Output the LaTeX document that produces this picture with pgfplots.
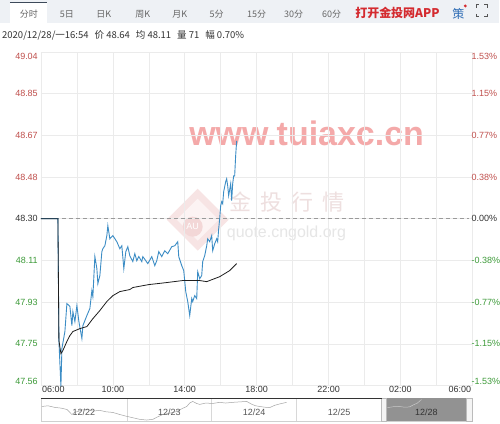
\documentclass[border=0pt]{standalone}
\usepackage{pgfplots}
\pgfplotsset{compat=1.18}
\usepackage{fontspec}
\setmainfont{Liberation Sans}
\newfontfamily\cjk{Noto Sans CJK SC}
\definecolor{pricecol}{HTML}{3C8DC5}
\definecolor{avgcol}{HTML}{1E1E1E}
\definecolor{upred}{HTML}{C0504D}
\definecolor{dngreen}{HTML}{3E9B3A}
\definecolor{neutral}{HTML}{333333}
\definecolor{gridc}{HTML}{EBEBEB}
\definecolor{dashc}{HTML}{9A9A9A}
\definecolor{barbg}{HTML}{EEF1F5}
\definecolor{tabtop}{HTML}{3D4A5A}
\definecolor{tabtxt}{HTML}{666666}
\definecolor{appred}{HTML}{D42A2F}
\definecolor{ceblue}{HTML}{2F6DB5}
\definecolor{iconc}{HTML}{555555}
\definecolor{wmpink}{HTML}{F4A9A9}
\definecolor{wmgray}{HTML}{EEDFDF}
\definecolor{wmlight}{HTML}{E6E6E6}
\definecolor{wmdia}{HTML}{F7E4E4}
\definecolor{wmdiain}{HTML}{FCF3F3}
\definecolor{wmcirc}{HTML}{F3D7D7}
\definecolor{navborder}{HTML}{D0D0D0}
\definecolor{navdiv}{HTML}{D8D8D8}
\definecolor{navsel}{HTML}{929292}
\definecolor{handlef}{HTML}{F4F4F4}
\definecolor{handled}{HTML}{BBBBBB}
\definecolor{navline}{HTML}{A5A5A5}
\definecolor{navlinesel}{HTML}{C8C8C8}
\newcommand{\tk}{\fontsize{9}{10}\selectfont}

\begin{document}
\begin{tikzpicture}
\begin{scope}[x=1pt,y=-1pt]
\useasboundingbox (0,0) rectangle (500,424);
\fill[white] (0,0) rectangle (500,424);
% tab bar
\fill[barbg] (0,0) rectangle (500,23);
\fill[white] (10,2) rectangle (47,23);
\draw[tabtop, line width=1.5pt] (10,2.5) -- (47,2.5);
\foreach \x/\t in {29/分时,67/5日,104/日K,143/周K,180/月K,217/5分,257/15分,294/30分,332/60分}
  \node[font=\cjk\tk, text=tabtxt] at (\x,14) {\t};
\node[font=\cjk\bfseries\fontsize{12}{13}\selectfont, text=appred] at (398,13) {打开金投网APP};
\node[font=\cjk\fontsize{12}{13}\selectfont, text=ceblue] at (459,14) {策};
\fill[appred] (466,6) circle (1.6);
\begin{scope}[draw=iconc, line width=1pt]
\draw (477,8) -- (477,5) -- (480,5);
\draw (485,5) -- (488,5) -- (488,8);
\draw (477,14) -- (477,17) -- (480,17);
\draw (485,17) -- (488,17) -- (488,14);
\end{scope}
% status line
\node[anchor=west, font=\cjk\fontsize{9.5}{11}\selectfont, text=neutral, inner sep=0pt] at (2,35)
  {2020/12/28/一16:54\hspace{6pt}价 48.64\hspace{6pt}均 48.11\hspace{6pt}量 71\hspace{6pt}幅 0.70\%};
% watermarks
\fill[wmdia] (198,189) -- (229,220) -- (198,251) -- (167,220) -- cycle;
\fill[wmdiain] (198,199) -- (219,220) -- (198,241) -- (177,220) -- cycle;
\fill[wmcirc] (193,227) circle (10);
\node[text=white, font=\fontsize{9}{10}\selectfont] at (193,227) {AU};
\node[text=wmgray, font=\cjk\fontsize{22}{24}\selectfont, anchor=west, inner sep=0pt] at (230,202)
  {金\hspace{9pt}投\hspace{9pt}行\hspace{9pt}情};
\node[text=wmlight, font=\fontsize{16}{18}\selectfont, anchor=west, inner sep=0pt] at (227,234) {quote.cngold.org};
\node[text=wmpink, font=\bfseries\fontsize{34}{36}\selectfont, anchor=base, inner sep=0pt] at (307,146) {www.tuiaxc.cn};
% navigator frame
\draw[navborder, line width=0.5pt] (41,399) rectangle (473,422);
\foreach \x in {127,212,297} \draw[navdiv, line width=0.5pt] (\x,399) -- (\x,422);
\fill[navsel] (387,399) rectangle (467,422);
\filldraw[fill=handlef, draw=handled, line width=0.5pt] (382,399) rectangle (387,422);
\filldraw[fill=handlef, draw=handled, line width=0.5pt] (467,399) rectangle (473,422);
\draw[neutral, line width=1.5pt] (41,399) -- (383,399);
\end{scope}

\begin{axis}[
  at={(41pt,-386pt)}, anchor=south west,
  scale only axis, width=432pt, height=334pt,
  xmin=0, xmax=24, ymin=47.561, ymax=49.039,
  xtick={0,2,...,24},
  xticklabels={,,10:00,,14:00,,18:00,,22:00,,02:00,,},
  ytick={47.561,47.7458,47.9305,48.1153,48.30,48.4848,48.6695,48.8543,49.039},
  yticklabels={},
  major tick length=0pt,
  grid=major, grid style={gridc, line width=0.5pt},
  axis line style={gridc, line width=0.5pt},
  xticklabel style={font=\tk, text=neutral, inner sep=1pt},
  clip=false,
]
\addplot[dashc, line width=0.6pt, dash pattern=on 4pt off 3pt] coordinates {(0,48.30) (23.8,48.30)};
\addplot[pricecol, line width=0.9pt] coordinates {
(0,48.300) (0.944,48.300) (1.000,47.760) (1.111,47.556) (1.167,47.725) (1.333,47.800)
(1.444,47.924) (1.611,47.911) (1.722,47.826) (1.778,47.888) (1.889,47.844) (2.000,47.915)
(2.111,47.844) (2.278,47.769) (2.333,47.826) (2.556,47.871) (2.722,47.902) (2.833,47.981)
(2.889,47.955) (3.000,48.132) (3.111,48.079) (3.167,48.012) (3.278,48.048) (3.389,48.154)
(3.444,48.167) (3.556,48.180) (3.667,48.225) (3.722,48.269) (3.833,48.211) (4.000,48.225)
(4.222,48.198) (4.389,48.167) (4.500,48.180) (4.611,48.079) (4.722,48.154) (4.833,48.176)
(4.944,48.136) (5.111,48.110) (5.222,48.145) (5.333,48.114) (5.444,48.132) (5.611,48.110)
(5.667,48.132) (5.833,48.114) (5.944,48.101) (6.167,48.132) (6.333,48.092) (6.444,48.114)
(6.556,48.154) (6.722,48.132) (6.889,48.158) (7.056,48.145) (7.278,48.176) (7.444,48.180)
(7.611,48.198) (7.667,48.132) (7.833,48.092) (7.944,48.070) (8.056,47.977) (8.167,47.933)
(8.278,47.871) (8.389,47.946) (8.444,47.933) (8.556,47.959) (8.667,47.946) (8.722,48.065)
(8.833,48.034) (8.944,48.048) (9.000,48.110) (9.111,48.136) (9.222,48.180) (9.278,48.211)
(9.389,48.198) (9.500,48.225) (9.556,48.158) (9.667,48.189) (9.778,48.211) (9.833,48.198)
(9.889,48.256) (9.944,48.300) (10.000,48.358) (10.056,48.375) (10.111,48.366) (10.167,48.420)
(10.278,48.464) (10.333,48.477) (10.389,48.446) (10.444,48.402) (10.556,48.455) (10.611,48.380)
(10.667,48.455) (10.722,48.490) (10.778,48.490) (10.833,48.579) (10.889,48.645)
};
\addplot[avgcol, line width=0.8pt] coordinates {
(0,48.300) (0.944,48.300) (1.000,47.760) (1.111,47.702) (1.222,47.716) (1.444,47.756)
(1.611,47.782) (1.778,47.800) (2.167,47.813) (2.556,47.822) (2.889,47.857) (3.278,47.893)
(3.667,47.933) (4.000,47.959) (4.389,47.977) (4.944,47.986) (5.111,47.995) (6.000,48.008)
(7.000,48.017) (7.889,48.026) (8.833,48.026) (9.222,48.021) (9.944,48.043) (10.500,48.070)
(10.889,48.101)
};
% edge time labels
\node[font=\tk, text=neutral, anchor=north west, inner sep=1pt] at (axis cs:0,47.561) {06:00};
\node[font=\tk, text=neutral, anchor=north east, inner sep=1pt] at (axis cs:24,47.561) {06:00};
% price labels (left)
\foreach \v/\t/\c/\s in {49.039/49.04/upred/-4, 48.8543/48.85/upred/0, 48.6695/48.67/upred/0,
  48.4848/48.48/upred/0, 48.30/48.30/neutral/0, 48.1153/48.11/dngreen/0,
  47.9305/47.93/dngreen/0, 47.7458/47.75/dngreen/0, 47.561/47.56/dngreen/4}
  {\edef\temp{\noexpand\node[font=\noexpand\tk, text=\c, anchor=east, inner sep=0pt, xshift=-3pt, yshift=\s pt] at (axis cs:0,\v) {\t};}\temp}
% percent labels (right)
\foreach \v/\t/\c/\s in {49.039/1.53\%/upred/-4, 48.8543/1.15\%/upred/0, 48.6695/0.77\%/upred/0,
  48.4848/0.38\%/upred/0, 48.30/0.00\%/neutral/0, 48.1153/-0.38\%/dngreen/0,
  47.9305/-0.77\%/dngreen/0, 47.7458/-1.15\%/dngreen/0, 47.561/-1.53\%/dngreen/4}
  {\edef\temp{\noexpand\node[font=\noexpand\tk, text=\c, anchor=west, inner sep=0pt, xshift=-1pt, yshift=\s pt] at (axis cs:24,\v) {\t};}\temp}
\end{axis}

% navigator mini line
\begin{axis}[
  at={(41pt,-422pt)}, anchor=south west,
  scale only axis, width=432pt, height=23pt,
  xmin=41, xmax=473, ymin=0, ymax=1, hide axis,
]
\addplot[navline, line width=0.5pt] coordinates {
(42,0.65) (48,0.68) (55,0.61) (61,0.58) (67,0.52) (72,0.30) (75,0.40) (78,0.43) (82,0.50)
(87,0.52) (93,0.45) (100,0.48) (106,0.42) (113,0.39) (120,0.30) (127,0.22) (134,0.15)
(140,0.09) (147,0.06) (153,0.09) (158,0.20) (163,0.30) (170,0.36) (177,0.43) (182,0.55)
(187,0.65) (190,0.80) (193,0.87) (197,0.78) (200,0.74) (206,0.80) (213,0.78) (220,0.83)
(226,0.80) (233,0.83) (240,0.85) (247,0.87) (252,0.75) (256,0.68) (260,0.65) (265,0.62)
(270,0.60) (275,0.70) (280,0.76) (287,0.83)
};
\addplot[navlinesel, line width=0.5pt] coordinates {
(388,0.60) (394,0.64) (400,0.65) (405,0.62) (410,0.63) (414,0.72) (418,0.80) (422,0.95)
};
\end{axis}

\begin{scope}[x=1pt,y=-1pt]
\node[font=\tk, text=iconc] at (84,413) {12/22};
\node[font=\tk, text=iconc] at (169.5,413) {12/23};
\node[font=\tk, text=iconc] at (254.5,413) {12/24};
\node[font=\tk, text=iconc] at (339.5,413) {12/25};
\node[font=\tk, text=neutral] at (427,413) {12/28};
\end{scope}
\end{tikzpicture}
\end{document}
